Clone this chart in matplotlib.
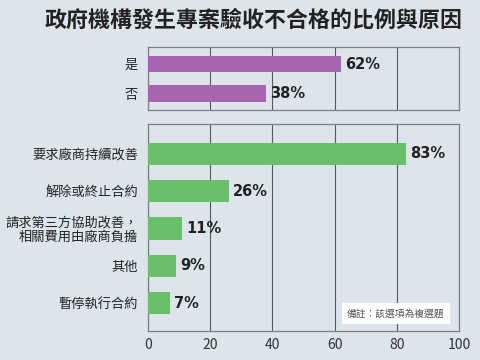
import matplotlib
matplotlib.use("Agg")
import matplotlib.pyplot as plt

plt.rcParams['font.family'] = ['Noto Sans CJK TC', 'DejaVu Sans']

title = '政府機構發生專案驗收不合格的比例與原因'
top_labels = ['是', '否']
top_values = [62, 38]
bottom_labels = ['要求廠商持續改善', '解除或終止合約', '請求第三方協助改善，\n相關費用由廠商負擔', '其他', '暫停執行合約']
bottom_values = [83, 26, 11, 9, 7]
xticks = [0, 20, 40, 60, 80, 100]
note = '備註：該選項為複選題'

bg = '#dde4ea'
purple = '#a666b0'
green = '#6abf6c'

fig = plt.figure(figsize=(4.8, 3.6), dpi=100, facecolor=bg)
ax1 = fig.add_axes([148 / 480, 1 - 110 / 360, 311 / 480, 63 / 360])
ax2 = fig.add_axes([148 / 480, 1 - 331 / 360, 311 / 480, 207 / 360])


def style(ax, labels, values, color, height, ylim, show_x):
    ax.set_facecolor(bg)
    ypos = list(range(len(labels)))
    ax.barh(ypos, values, height=height, color=color, zorder=3)
    ax.set_xlim(0, 100)
    ax.set_ylim(*ylim)
    ax.set_xticks(xticks)
    ax.grid(axis='x', color='#555a60', linewidth=0.8, zorder=1)
    ax.set_yticks(ypos)
    ax.set_yticklabels(labels, fontsize=9.5, color='#222222', linespacing=1.1)
    ax.tick_params(length=0, pad=7)
    if show_x:
        ax.tick_params(axis='x', labelsize=10, labelcolor='#333333', pad=5)
    else:
        ax.tick_params(axis='x', labelbottom=False)
    for s in ax.spines.values():
        s.set_color('#7a7f85')
        s.set_linewidth(0.9)
    for y, v in zip(ypos, values):
        ax.text(v + 1.3, y, f'{v}%', va='center', ha='left', fontsize=10.5,
                fontweight='bold', color='#222222', family='DejaVu Sans', zorder=4)


style(ax1, top_labels, top_values, purple, 0.57, (1.56, -0.58), False)
style(ax2, bottom_labels, bottom_values, green, 0.6, (4.75, -0.8), True)

ax2.text(0.953, 0.085, note, transform=ax2.transAxes, ha='right', va='center',
         fontsize=7, color='#555555', zorder=5,
         bbox=dict(boxstyle='square,pad=0.55', facecolor='white', edgecolor='none'))

fig.text(254 / 480, 1 - 20 / 360, title, ha='center', va='center',
         fontsize=15.8, fontweight='bold', color='#222222')

fig.savefig('out.png', dpi=100, facecolor=bg)
